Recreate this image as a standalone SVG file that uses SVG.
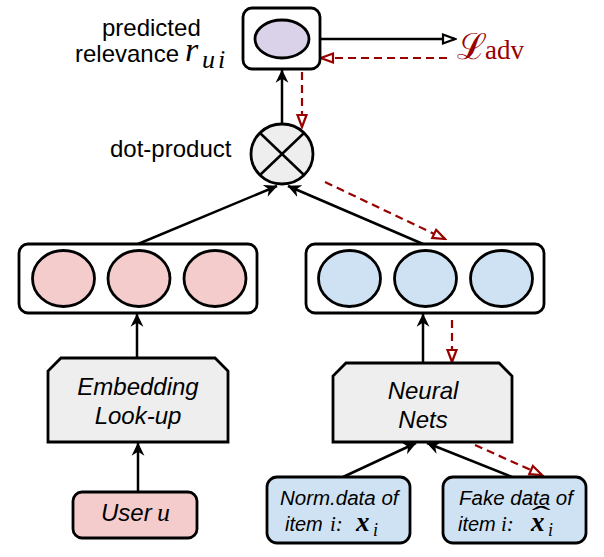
<svg xmlns="http://www.w3.org/2000/svg" width="604" height="557" viewBox="0 0 604 557">
<style>
.box{stroke:#000;stroke-width:2.8;fill:#fff}
.cell{stroke:#000;stroke-width:2.8}
.pink{fill:#f4cccc}
.blue{fill:#cfe2f3}
.grey{fill:#eeeeee}
.purple{fill:#d9d2e9}
.lbl{font-family:"Liberation Sans",Arial,sans-serif;font-size:24px;fill:#000}
.it{font-family:"Liberation Sans",Arial,sans-serif;font-style:italic;fill:#000}
.math{font-family:"Liberation Serif","Times New Roman",serif;font-style:italic;fill:#000}
.blk{stroke:#000;stroke-width:2.5;fill:none}
.red{stroke:#990000;stroke-width:2.2;fill:none;stroke-dasharray:8 5}
</style>
<defs>
<marker id="classic" markerUnits="userSpaceOnUse" markerWidth="14" markerHeight="14" viewBox="0 0 12 12" refX="11" refY="6" orient="auto">
<path d="M0,0.5 L11.5,6 L0,11.5 L3.5,6 Z" fill="#000"/>
</marker>
<marker id="openBlk" markerUnits="userSpaceOnUse" markerWidth="16" markerHeight="14" viewBox="0 0 16 14" refX="14" refY="7" orient="auto">
<path d="M2,2.5 L14,7 L2,11.5 Z" fill="#fff" stroke="#000" stroke-width="2.2"/>
</marker>
<marker id="openRed" markerUnits="userSpaceOnUse" markerWidth="16" markerHeight="14" viewBox="0 0 16 14" refX="14" refY="7" orient="auto">
<path d="M2,2.5 L14,7 L2,11.5 Z" fill="#fff" stroke="#990000" stroke-width="2.2"/>
</marker>
</defs>

<g id="connectors">
<line class="blk" x1="282" y1="124" x2="282" y2="70" marker-end="url(#classic)"/>
<line class="blk" x1="320" y1="39" x2="455" y2="39" marker-end="url(#openBlk)"/>
<line class="red" x1="447" y1="58" x2="321" y2="58" marker-end="url(#openRed)"/>
<line class="red" x1="302" y1="72" x2="302" y2="127" marker-end="url(#openRed)"/>
<line class="blk" x1="138" y1="244" x2="277" y2="186" marker-end="url(#classic)"/>
<line class="blk" x1="423" y1="244" x2="288" y2="186" marker-end="url(#classic)"/>
<line class="red" x1="325" y1="182" x2="445" y2="239" marker-end="url(#openRed)"/>
<line class="blk" x1="137" y1="358" x2="137" y2="314" marker-end="url(#classic)"/>
<line class="blk" x1="423" y1="363" x2="423" y2="314" marker-end="url(#classic)"/>
<line class="red" x1="452" y1="320" x2="452" y2="362" marker-end="url(#openRed)"/>
<line class="blk" x1="138" y1="492" x2="138" y2="443" marker-end="url(#classic)"/>
<line class="blk" x1="343" y1="477" x2="416" y2="443" marker-end="url(#classic)"/>
<line class="blk" x1="512" y1="477" x2="427" y2="443" marker-end="url(#classic)"/>
<line class="red" x1="475" y1="445" x2="542" y2="475" marker-end="url(#openRed)"/>
</g>

<g id="predicted">
<rect class="box" x="243" y="8" width="77" height="61" rx="9"/>
<ellipse class="cell purple" cx="282" cy="39" rx="27" ry="19"/>
<text class="lbl" x="102" y="36">predicted</text>
<text class="lbl" x="75" y="62">relevance</text>
<text class="math" x="185" y="61" font-size="34">r</text>
<text class="math" x="202" y="68" font-size="26" letter-spacing="3">ui</text>
</g>

<g id="loss">
<text x="457" y="59" font-family="'DejaVu Serif',serif" font-size="36" fill="#990000">ℒ</text>
<text x="485" y="59" font-family="'Liberation Serif','Times New Roman',serif" font-size="27" fill="#990000">adv</text>
</g>

<g id="dotproduct">
<ellipse class="cell grey" cx="282" cy="154" rx="31" ry="30"/>
<line class="blk" x1="260" y1="133" x2="304" y2="175"/>
<line class="blk" x1="304" y1="133" x2="260" y2="175"/>
<text class="lbl" x="110" y="157">dot-product</text>
</g>

<g id="user-embedding">
<rect class="box" x="19" y="244" width="238" height="69" rx="9"/>
<ellipse class="cell pink" cx="63.5" cy="278.5" rx="31" ry="28"/>
<ellipse class="cell pink" cx="139" cy="278.5" rx="31" ry="28"/>
<ellipse class="cell pink" cx="215" cy="278.5" rx="31" ry="28"/>
</g>

<g id="item-embedding">
<rect class="box" x="306" y="244" width="238" height="69" rx="9"/>
<ellipse class="cell blue" cx="349.5" cy="278.5" rx="31" ry="28"/>
<ellipse class="cell blue" cx="425.5" cy="278.5" rx="31" ry="28"/>
<ellipse class="cell blue" cx="501.5" cy="278.5" rx="31" ry="28"/>
</g>

<g id="embedding-lookup">
<polygon class="cell grey" points="61,358 215,358 228,371 228,442 48,442 48,371"/>
<text class="it" font-size="24" x="138" y="395" text-anchor="middle">Embedding</text>
<text class="it" font-size="24" x="138" y="424" text-anchor="middle">Look-up</text>
</g>

<g id="neural-nets">
<polygon class="cell grey" points="346,363 499,363 512,376 512,442 333,442 333,376"/>
<text class="it" font-size="24" x="423" y="399" text-anchor="middle">Neural</text>
<text class="it" font-size="24" x="423" y="428" text-anchor="middle">Nets</text>
</g>

<g id="user">
<rect class="cell pink" x="73" y="492" width="124" height="46" rx="9"/>
<text class="it" font-size="24" x="101" y="521">User</text>
<text class="math" font-size="26" x="157" y="521">u</text>
</g>

<g id="norm-data">
<rect class="cell blue" x="267" y="477" width="143" height="66" rx="10"/>
<text class="it" font-size="20.5" x="280" y="505">Norm.data of</text>
<text class="it" font-size="20" x="285" y="531">item</text>
<text class="math" font-size="21" x="330" y="531">i:</text>
<text class="math" font-size="27" font-weight="bold" x="356" y="531">x</text>
<text class="math" font-size="18" x="373" y="536">i</text>
</g>

<g id="fake-data">
<rect class="cell blue" x="443" y="477" width="143" height="66" rx="10"/>
<text class="it" font-size="20.5" x="459" y="505">Fake data of</text>
<text class="it" font-size="20" x="458" y="531">item</text>
<text class="math" font-size="21" x="501" y="531">i:</text>
<text class="math" font-size="27" font-weight="bold" x="531" y="531">x</text>
<text font-family="'Liberation Serif',serif" font-size="28" x="541" y="525" text-anchor="middle" transform="translate(541 0) scale(2 1) translate(-541 0)">ˆ</text>
<text class="math" font-size="18" x="548" y="536">i</text>
</g>
</svg>
